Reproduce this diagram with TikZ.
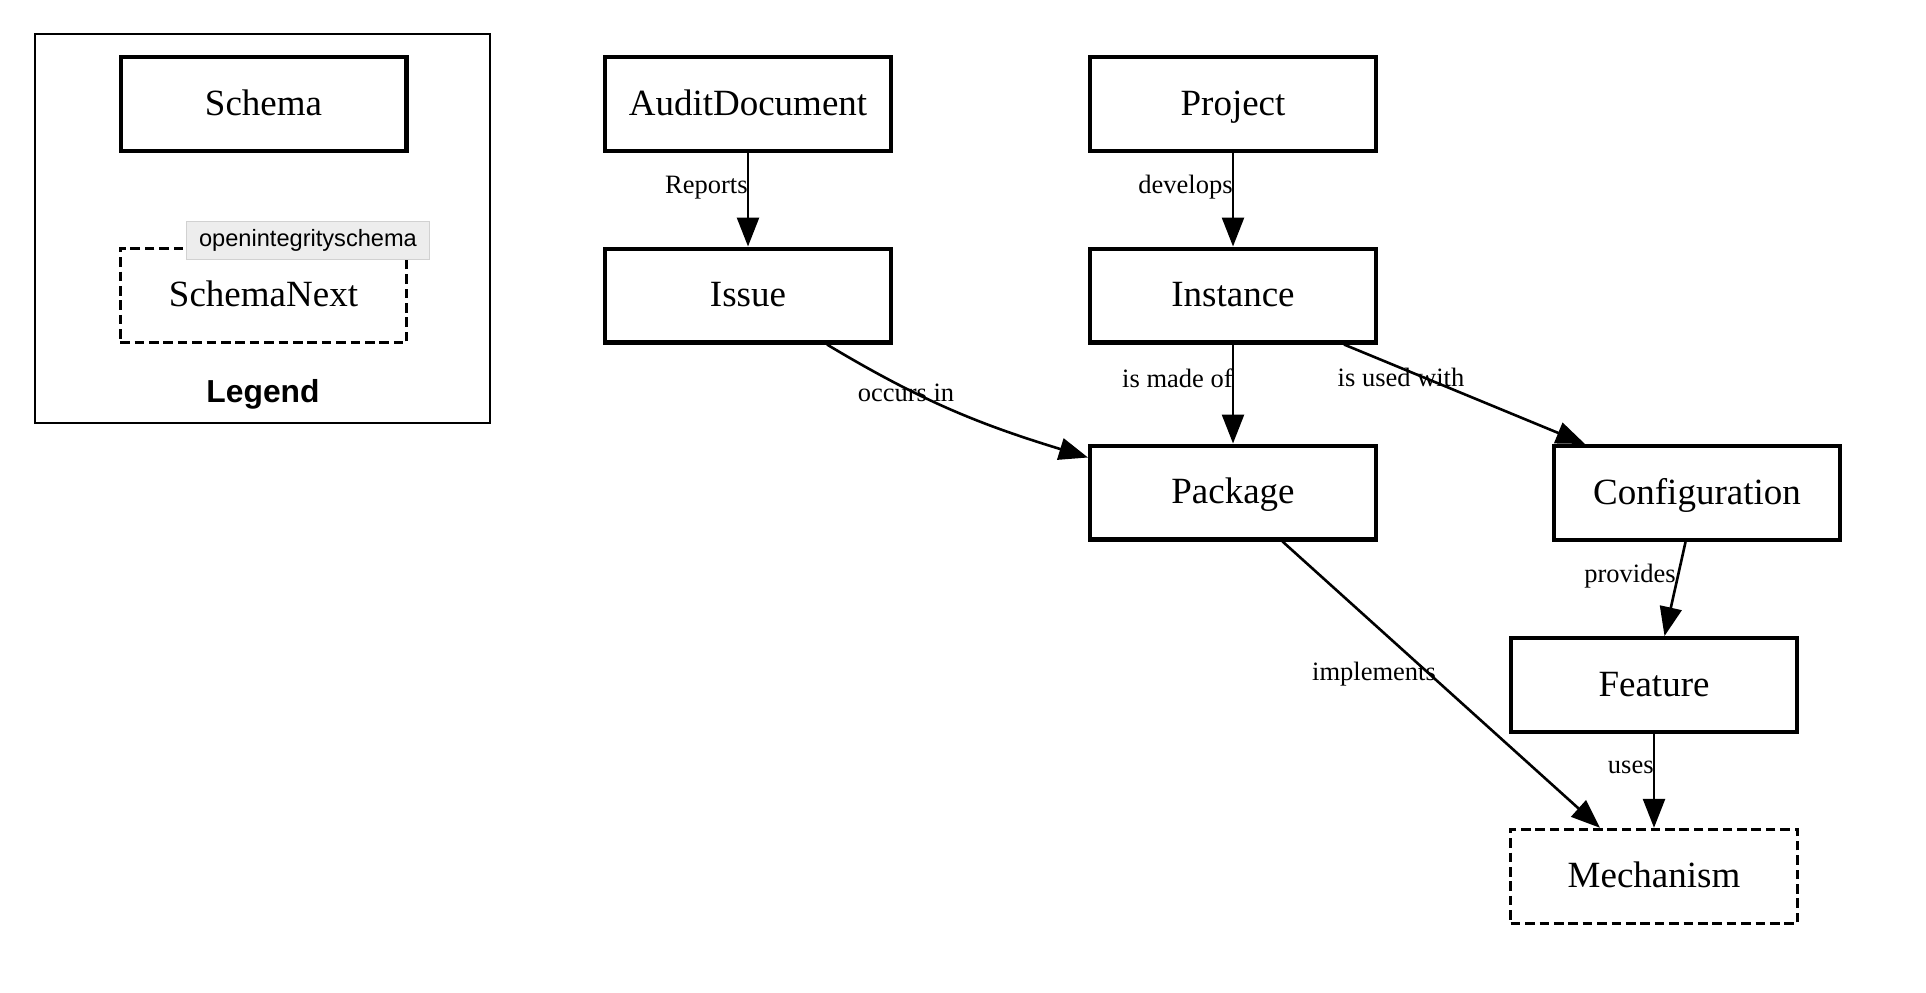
\documentclass[tikz,border=0pt]{standalone}
\usepackage{fontspec}
\setmainfont{Liberation Serif}
\newfontfamily\sansf{Liberation Sans}
\usetikzlibrary{arrows.meta}
\begin{document}
\begin{tikzpicture}[x=0.5pt,y=-0.5pt,
  schemabox/.style={draw, line width=2.2pt, minimum width=142.8pt, minimum height=46.8pt, inner sep=0pt, text height=14pt, text depth=3pt, font=\fontsize{18.5pt}{22pt}\selectfont},
  nextbox/.style={draw, line width=1.4pt, dash pattern=on 4.8pt off 2.4pt, minimum width=143.3pt, minimum height=47.3pt, inner sep=0pt, text height=14pt, text depth=3pt, font=\fontsize{18.5pt}{22pt}\selectfont},
  rel/.style={line width=1.3pt, -{Triangle[length=14.5pt,width=11pt]}},
  lbl/.style={inner sep=0pt, text height=9.5pt, text depth=2.5pt, font=\fontsize{13.25pt}{16pt}\selectfont},
]
\fill[white] (0,0) rectangle (1926,992);
\useasboundingbox (0,0) rectangle (1926,992);

% legend
\node[draw, line width=1.1pt, minimum width=227.5pt, minimum height=194.5pt, inner sep=0pt] (legend) at (262.5,228.5) {};
\node[schemabox] (sch) at (263.5,104) {Schema};
\node[nextbox] (schn) at (263.5,295.5) {SchemaNext};
\node[draw=black!18, fill=black!7, line width=0.6pt, minimum width=121.5pt, minimum height=19pt, inner sep=0pt,
      font=\sansf\fontsize{11.8pt}{14pt}\selectfont] (tip) at (308,240.5) {openintegrityschema};
\node[inner sep=0pt, font=\sansf\bfseries\fontsize{15.9pt}{18pt}\selectfont] (legtitle) at (263,394) {Legend};

% nodes
\node[schemabox] (aud) at (748,104) {AuditDocument};
\node[schemabox] (proj) at (1233,104) {Project};
\node[schemabox] (iss) at (748,295.5) {Issue};
\node[schemabox] (inst) at (1233,295.5) {Instance};
\node[schemabox] (pkg) at (1233,492.5) {Package};
\node[schemabox] (cfg) at (1697,493) {Configuration};
\node[schemabox] (feat) at (1654,685) {Feature};
\node[nextbox] (mech) at (1654,876.5) {Mechanism};

% edges
\draw[rel] (aud) -- (iss);
\draw[rel] (proj) -- (inst);
\draw[rel] (inst) -- (pkg);
\draw[rel] (feat) -- (mech);
\draw[rel] ([xshift=-33pt]iss.south east) to[out=-31,in=163] ([yshift=-7pt]pkg.north west);
\draw[rel] ([xshift=-17pt]inst.south east) -- ([xshift=16.5pt]cfg.north west);
\draw[rel] ([xshift=-5.75pt]cfg.south) -- ([xshift=5.25pt]feat.north);
\draw[rel] ([xshift=24.75pt]pkg.south) -- ([xshift=-27pt]mech.north);

% edge labels
\node[lbl, anchor=east] (lrep) at (748,186) {Reports};
\node[lbl, anchor=east] (ldev) at (1233,186) {develops};
\node[lbl, anchor=east] (lmade) at (1233,380) {is made of};
\node[lbl] (locc) at (906,394) {occurs in};
\node[lbl] (lused) at (1401,379) {is used with};
\node[lbl, anchor=east] (lprov) at (1676,575) {provides};
\node[lbl] (limpl) at (1374,673) {implements};
\node[lbl, anchor=east] (luses) at (1654,766) {uses};
\end{tikzpicture}
\end{document}
